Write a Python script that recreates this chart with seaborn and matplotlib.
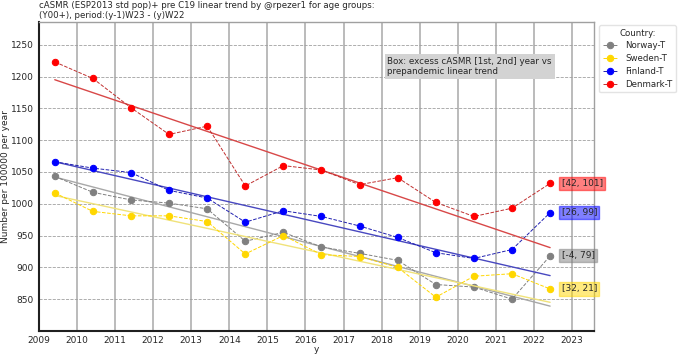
import pandas as pd
import matplotlib.pyplot as plt
import seaborn as sns

# ============================================================
# DATA
# ============================================================
x_pos = [2009.42, 2010.42, 2011.42, 2012.42, 2013.42, 2014.42, 2015.42,
         2016.42, 2017.42, 2018.42, 2019.42, 2020.42, 2021.42, 2022.42]

norway = [1043, 1018, 1006, 1001, 992, 941, 955, 932, 922, 911, 873, 869, 850, 918]
sweden = [1017, 988, 981, 981, 972, 921, 950, 920, 917, 900, 853, 886, 890, 866]
finland = [1066, 1056, 1049, 1021, 1009, 971, 989, 980, 965, 947, 923, 914, 928, 986]
denmark = [1223, 1197, 1151, 1109, 1122, 1028, 1060, 1053, 1030, 1041, 1002, 980, 993, 1032]

trend_x = [2009.42, 2022.42]
norway_trend = [1042, 839]
sweden_trend = [1013, 845]
finland_trend = [1066, 887]
denmark_trend = [1195, 931]

countries = ["Norway-T", "Sweden-T", "Finland-T", "Denmark-T"]
excess_labels = ["[-4, 79]", "[32, 21]", "[26, 99]", "[42, 101]"]

x_ticks = list(range(2009, 2024))
y_ticks = [850, 900, 950, 1000, 1050, 1100, 1150, 1200, 1250]

# ============================================================
# STYLE
# ============================================================
sns.set_style("white")
plt.rcParams["font.family"] = ["DejaVu Sans"]

series = [norway, sweden, finland, denmark]
trends = [norway_trend, sweden_trend, finland_trend, denmark_trend]
marker_colors = ["grey", "gold", "blue", "red"]
dash_colors = ["grey", "gold", "#2020b0", "#c03030"]
trend_colors = ["#a8a8a8", "#f0e27a", "#4848c0", "#d84848"]
box_colors = ["grey", "gold", "blue", "red"]

fig = plt.figure(figsize=(6.8, 3.57), dpi=100)
ax = fig.add_axes([0.057, 0.073, 0.817, 0.864])

# ============================================================
# CHART
# ============================================================
for name, vals, trend, mc, dc, tc in zip(countries, series, trends,
                                         marker_colors, dash_colors, trend_colors):
    sns.lineplot(x=trend_x, y=trend, ax=ax, color=tc, linewidth=1.0,
                 label="_nolegend_")
    df = pd.DataFrame({"x": x_pos, "y": vals})
    sns.lineplot(data=df, x="x", y="y", ax=ax, color=dc, linewidth=0.7,
                 linestyle="--", marker="o", markersize=4.6,
                 markerfacecolor=mc, markeredgecolor=mc, label=name)

for vals, lab, bc in zip(series, excess_labels, box_colors):
    ax.text(2022.72, vals[-1], lab, fontsize=6.5, va="center", ha="left",
            bbox=dict(facecolor=bc, alpha=0.5, edgecolor=bc, pad=1.5),
            clip_on=False)

ax.text(2018.15, 1216, "Box: excess cASMR [1st, 2nd] year vs\nprepandemic linear trend",
        fontsize=6.3, va="center", ha="left",
        bbox=dict(facecolor="lightgrey", edgecolor="none", pad=2))

ax.set_xlim(2009, 2023.58)
ax.set_ylim(800, 1285)
ax.set_xticks(x_ticks)
ax.set_yticks(y_ticks)
ax.tick_params(labelsize=6.5, length=2, pad=1.5)

ax.grid(axis="x", color="#a8a8a8", linestyle="-", linewidth=1.1)
ax.grid(axis="y", color="#a0a0a0", linestyle="--", linewidth=0.6)
ax.set_axisbelow(True)

for side in ["top", "right"]:
    ax.spines[side].set_color("#a0a0a0")
    ax.spines[side].set_linewidth(1.0)
for side in ["left", "bottom"]:
    ax.spines[side].set_color("#202020")
    ax.spines[side].set_linewidth(1.5)

ax.set_xlabel("y", fontsize=6.5, labelpad=0)
ax.set_ylabel("Number per 100000 per year", fontsize=6.5, labelpad=1)
ax.set_title("cASMR (ESP2013 std pop)+ pre C19 linear trend by @rpezer1 for age groups:\n"
             "(Y00+), period:(y-1)W23 - (y)W22", loc="left", fontsize=6.2, pad=3)

leg = ax.legend(title="Country:", loc="upper left", bbox_to_anchor=(1.004, 1.0),
                fontsize=6.2, title_fontsize=6.2, frameon=True, borderaxespad=0.3,
                handlelength=1.8, labelspacing=0.45)
leg.get_frame().set_edgecolor("#dddddd")

plt.savefig("out.png", dpi=100)
plt.close()
